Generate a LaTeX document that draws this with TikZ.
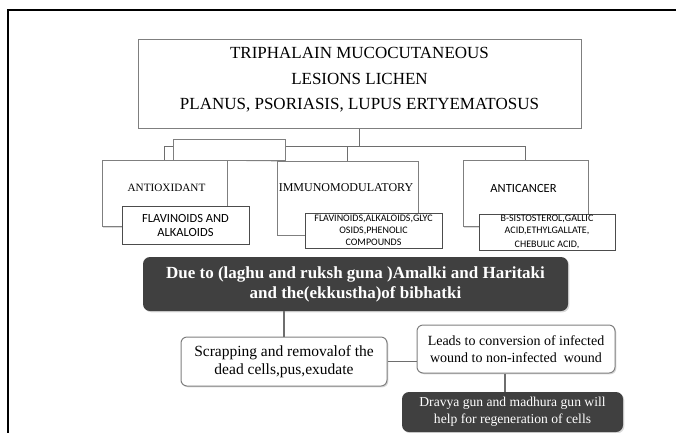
\documentclass[tikz,border=0pt]{standalone}
\usepackage{fontspec}
\setmainfont{Liberation Serif}
\newfontfamily\calib{Carlito}
\usetikzlibrary{shadows}
\definecolor{darkbox}{HTML}{404040}
\definecolor{edgegray}{HTML}{7F7F7F}
\definecolor{linegray}{HTML}{6E6E6E}
\begin{document}
\begin{tikzpicture}[x=1pt,y=-1pt,
  shad/.style={drop shadow={shadow xshift=1.3pt, shadow yshift=-1.3pt, opacity=0.3}},
  sq/.style={draw=edgegray, line width=1pt, fill=white, inner sep=0pt, shad},
  sub/.style={draw=black!70, line width=0.9pt, fill=white, inner sep=0pt, align=center, font=\calib\fontsize{10}{12}\selectfont},
  rnd/.style={draw=edgegray, line width=1pt, fill=white, rounded corners=6pt, inner sep=0pt, align=center, shad},
  dark/.style={fill=darkbox, text=white, rounded corners=7pt, inner sep=0pt, align=center, shad},
  conn/.style={draw=linegray, line width=1.6pt},
  lbl/.style={inner sep=0pt, align=center}
]
\useasboundingbox (0,0) rectangle (676,432);
% frame
\draw[line width=1.6pt] (8,433) -- (8,10) -- (677,10);

% top box
\node[sq, minimum width=443pt, minimum height=89pt] (title) at (359.5,83.5) {};
\node[lbl, font=\fontsize{17}{25.5}\selectfont] (titletext) at (359.5,80) {TRIPHALAIN MUCOCUTANEOUS\\LESIONS LICHEN\\PLANUS, PSORIASIS, LUPUS ERTYEMATOSUS};

% category box positions
\path (164.5,193.5) coordinate (antioxc) (347.5,198) coordinate (immunoc) (525.5,193.5) coordinate (cancc);

% tree connectors
\node[inner sep=0pt, minimum width=125pt, minimum height=66pt] (antiox) at (antioxc) {};
\node[inner sep=0pt, minimum width=141pt, minimum height=74pt] (immuno) at (immunoc) {};
\node[inner sep=0pt, minimum width=125pt, minimum height=66pt] (canc) at (cancc) {};
\draw[conn] (title.south) -- ++(0,18) -| (antiox.north);
\draw[conn] (title.south) -- ++(0,18) -| (immuno.north);
\draw[conn] (title.south) -- ++(0,18) -| (canc.north);
\draw[draw=edgegray, line width=1pt] (antiox.north east) -- (immuno.north west);

\node[sq, minimum width=112pt, minimum height=21pt] (blank) at (229,149.5) {};
\node[sq, minimum width=125pt, minimum height=66pt] (antioxbox) at (antioxc) {};
\node[sq, minimum width=141pt, minimum height=74pt] (immunobox) at (immunoc) {};
\node[sq, minimum width=125pt, minimum height=66pt] (cancbox) at (cancc) {};

\node[lbl, font=\fontsize{11.2}{13}\selectfont] (antioxtext) at (166.5,187.5) {ANTIOXIDANT};
\node[lbl, font=\fontsize{12}{13}\selectfont] (immunotext) at (346,187.5) {IMMUNOMODULATORY};
\node[lbl, font=\calib\fontsize{12.5}{14}\selectfont] (canctext) at (523.5,188) {ANTICANCER};

\node[sub, minimum width=127pt, minimum height=38pt, font=\calib\fontsize{12.5}{14}\selectfont] (flav) at (185.5,225) {FLAVINOIDS AND\\ALKALOIDS};
\node[sub, minimum width=137pt, minimum height=35pt] (immsub) at (373.5,230.5) {FLAVINOIDS,ALKALOIDS,GLYC\\OSIDS,PHENOLIC\\COMPOUNDS};
\node[sub, minimum width=136pt, minimum height=36pt] (cancsub) at (547,232) {B-SISTOSTEROL,GALLIC\\ACID,ETHYLGALLATE,\\[2.5pt]CHEBULIC ACID,};

% lower part
\node[dark, minimum width=425pt, minimum height=54pt, font=\bfseries\fontsize{17}{20}\selectfont] (mech) at (355.5,284) {Due to (laghu and ruksh guna )Amalki and Haritaki\\and the(ekkustha)of bibhatki};
\node[rnd, minimum width=206pt, minimum height=49pt, font=\fontsize{15.5}{18}\selectfont] (scrap) at (284,361.5) {Scrapping and removalof the\\dead cells,pus,exudate};
\node[rnd, minimum width=198pt, minimum height=48pt, font=\fontsize{14}{17}\selectfont] (leads) at (516,349) {Leads to conversion of infected\\wound to non-infected\ \ wound};
\node[dark, minimum width=221pt, minimum height=40pt, font=\fontsize{13.6}{17}\selectfont] (drav) at (512.5,412) {Dravya gun and madhura gun will\\help for regeneration of cells};

\draw[conn] (scrap.north) -- (scrap.north |- mech.south);
\draw[conn] (scrap.east) -- (scrap.east -| leads.west);
\draw[conn] ([xshift=-11pt]leads.south) -- ([xshift=-11pt]leads.south |- drav.north);
\end{tikzpicture}
\end{document}
